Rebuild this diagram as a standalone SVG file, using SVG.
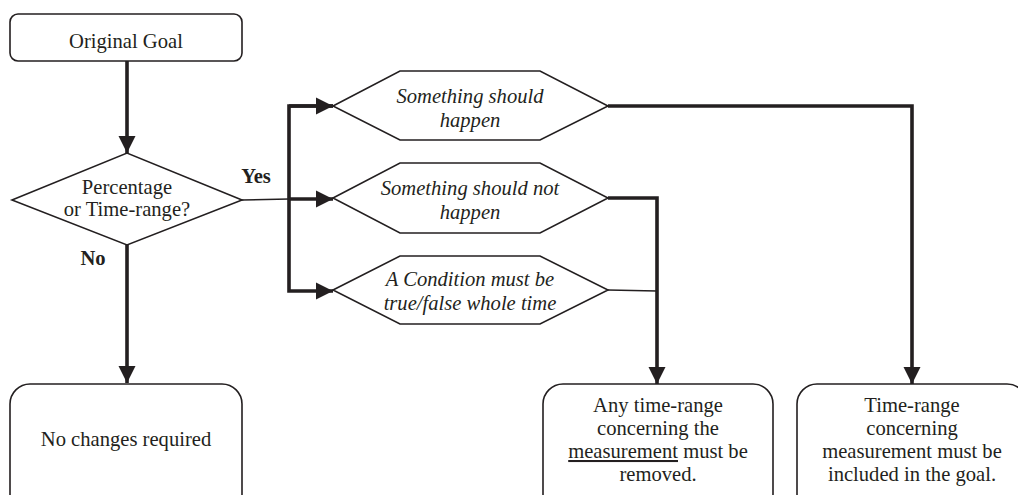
<svg xmlns="http://www.w3.org/2000/svg" width="1018" height="495" viewBox="0 0 1018 495">
<style>
.box{fill:#fff;stroke:#231f20;stroke-width:1.6}
.t{font-family:"Liberation Serif","Times New Roman",serif;font-size:20.6px;fill:#231f20;text-anchor:middle}
.i{font-style:italic}
.b{font-weight:bold}
.thick{fill:none;stroke:#231f20;stroke-width:3.6}
.thin{fill:none;stroke:#231f20;stroke-width:1.6}
</style>
<defs>
<marker id="ah" markerUnits="userSpaceOnUse" markerWidth="18" markerHeight="18" viewBox="0 0 18 18" refX="17" refY="9" orient="auto">
<path d="M0,0.5 L17,9 L0,17.5 Z" fill="#231f20"/>
</marker>
</defs>
<rect width="1018" height="495" fill="#fff"/>
<g id="connectors">
<path class="thick" d="M127,61 V153" marker-end="url(#ah)"/>
<path class="thick" d="M127,245 V383" marker-end="url(#ah)"/>
<path class="thin" d="M242,200 L289,199"/>
<path class="thick" d="M289,199 H333" marker-end="url(#ah)"/>
<path class="thick" d="M333,106 H289 V291 H333" marker-end="url(#ah)"/>
<path class="thick" d="M289,106 H333" marker-end="url(#ah)"/>
<path class="thick" d="M608,106 H912 V384" marker-end="url(#ah)"/>
<path class="thick" d="M608,198 H657 V384" marker-end="url(#ah)"/>
<path class="thin" d="M608,290 L657,291"/>
</g>
<g id="original-goal">
<rect class="box" x="10" y="14" width="232" height="47" rx="8"/>
<text class="t" x="126" y="48">Original Goal</text>
</g>
<g id="decision">
<polygon class="box" points="12,200 127,153 242,200 127,245"/>
<text class="t" x="127" y="194">Percentage</text>
<text class="t" x="127" y="216">or Time-range?</text>
</g>
<g id="labels">
<text class="t b" x="256" y="183">Yes</text>
<text class="t b" x="93" y="265">No</text>
</g>
<g id="hex-happen">
<polygon class="box" points="333,106 400,71 540,71 608,106 540,140 400,140"/>
<text class="t i" x="470" y="103">Something should</text>
<text class="t i" x="470" y="127">happen</text>
</g>
<g id="hex-not-happen">
<polygon class="box" points="333,198 400,163 540,163 608,198 540,233 400,233"/>
<text class="t i" x="470" y="195">Something should not</text>
<text class="t i" x="470" y="219">happen</text>
</g>
<g id="hex-condition">
<polygon class="box" points="333,290 400,256 540,256 608,290 540,324 400,324"/>
<text class="t i" x="470" y="286">A Condition must be</text>
<text class="t i" x="470" y="310">true/false whole time</text>
</g>
<g id="no-changes">
<rect class="box" x="10" y="384" width="232" height="130" rx="20"/>
<text class="t" x="126" y="446">No changes required</text>
</g>
<g id="remove-box">
<rect class="box" x="543" y="384" width="230" height="130" rx="20"/>
<text class="t" x="658" y="412">Any time-range</text>
<text class="t" x="658" y="435">concerning the</text>
<text class="t" x="658" y="458"><tspan text-decoration="underline">measurement</tspan> must be</text>
<text class="t" x="658" y="481">removed.</text>
</g>
<g id="include-box">
<rect class="box" x="797" y="384" width="230" height="130" rx="20"/>
<text class="t" x="912" y="412">Time-range</text>
<text class="t" x="912" y="435">concerning</text>
<text class="t" x="912" y="458">measurement must be</text>
<text class="t" x="912" y="481">included in the goal.</text>
</g>
</svg>
